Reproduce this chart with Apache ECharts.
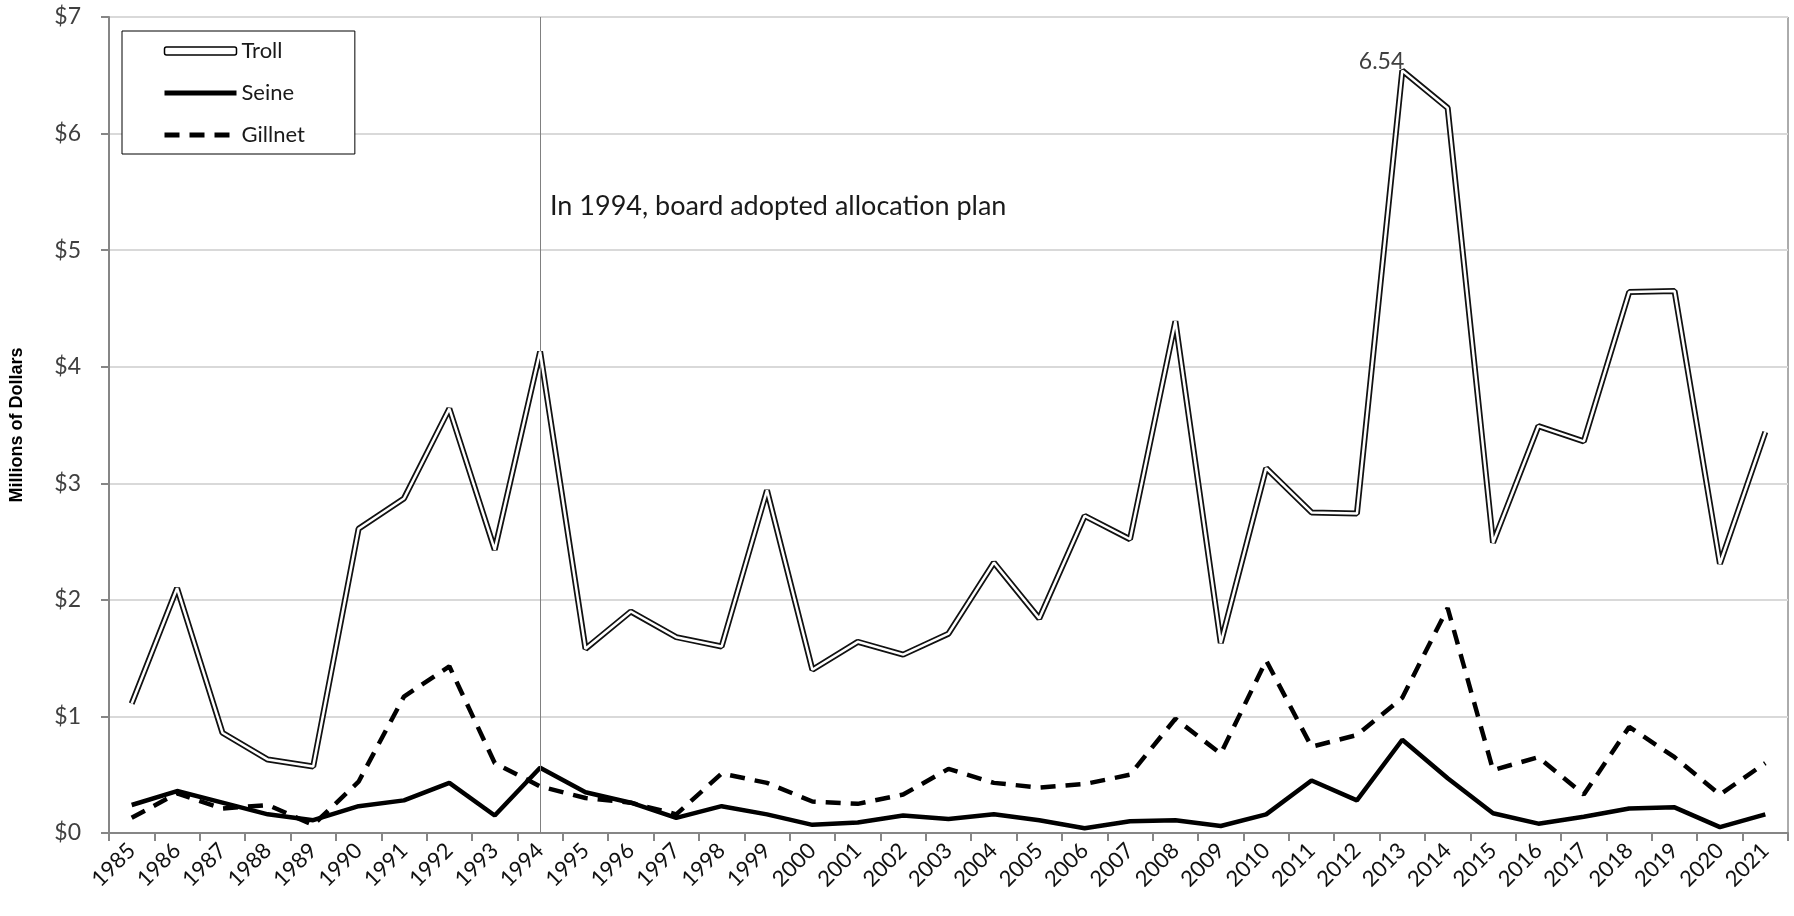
<!DOCTYPE html>
<html>
<head>
<meta charset="utf-8">
<script src="https://cdn.jsdelivr.net/npm/echarts@6.0.0/dist/echarts.min.js"></script>
<style>
  html, body { margin: 0; padding: 0; background: #fff; }
  #main { width: 1794px; height: 916px; }
</style>
</head>
<body>
<div id="main"></div>
<script>
// chart data, millions of dollars
var years = ["1985", "1986", "1987", "1988", "1989", "1990", "1991", "1992", "1993", "1994",
  "1995", "1996", "1997", "1998", "1999", "2000", "2001", "2002", "2003", "2004",
  "2005", "2006", "2007", "2008", "2009", "2010", "2011", "2012", "2013", "2014",
  "2015", "2016", "2017", "2018", "2019", "2020", "2021"];

var troll = [1.11, 2.10, 0.86, 0.63, 0.57, 2.61, 2.87, 3.64, 2.43, 4.13,
  1.58, 1.90, 1.68, 1.60, 2.94, 1.40, 1.64, 1.53, 1.71, 2.32,
  1.84, 2.72, 2.52, 4.39, 1.63, 3.13, 2.75, 2.74, 6.54, 6.22,
  2.49, 3.49, 3.36, 4.64, 4.65, 2.31, 3.44];

var seine = [0.24, 0.36, 0.26, 0.16, 0.11, 0.23, 0.28, 0.43, 0.15, 0.56,
  0.35, 0.26, 0.13, 0.23, 0.16, 0.07, 0.09, 0.15, 0.12, 0.16,
  0.11, 0.04, 0.10, 0.11, 0.06, 0.16, 0.45, 0.28, 0.80, 0.47,
  0.17, 0.08, 0.14, 0.21, 0.22, 0.05, 0.16];

var gillnet = [0.13, 0.34, 0.21, 0.24, 0.07, 0.44, 1.17, 1.43, 0.60, 0.40,
  0.30, 0.26, 0.16, 0.51, 0.43, 0.27, 0.25, 0.33, 0.55, 0.43,
  0.39, 0.42, 0.50, 0.98, 0.68, 1.48, 0.74, 0.84, 1.16, 1.93,
  0.54, 0.65, 0.33, 0.91, 0.65, 0.33, 0.60];

var yTicks = [0, 7, 1]; // min, max, interval
var markYear = "1994";
var noteText = "In 1994, board adopted allocation plan";

var font = "Lato, 'Open Sans', sans-serif";
var dash = [15, 10];

var chartDom = document.getElementById("main");
var myChart = echarts.init(chartDom);

var option = {
  animation: false,
  grid: {
    left: 107,
    right: 6,
    top: 17,
    bottom: 83,
    show: true,
    borderColor: "#595959",
    borderWidth: 1,
  },
  legend: {
    orient: "vertical",
    left: 122,
    top: 31,
    padding: [9, 50, 8, 40],
    backgroundColor: "#fff",
    borderColor: "#000",
    borderWidth: 1,
    itemWidth: 72,
    itemHeight: 8,
    itemGap: 20,
    textStyle: { fontFamily: font, fontSize: 22, color: "#1a1a1a" },
    data: [
      {
        name: "Troll",
        icon: "roundRect",
        itemStyle: { color: "#fff", borderColor: "#000", borderWidth: 1.5, opacity: 1 },
      },
      {
        name: "Seine",
        itemStyle: { opacity: 0 },
        lineStyle: { color: "#000", width: 5, type: "solid" },
      },
      {
        name: "Gillnet",
        itemStyle: { opacity: 0 },
        lineStyle: { color: "#000", width: 5, type: dash },
      },
    ],
  },
  xAxis: [
    {
      type: "category",
      boundaryGap: true,
      data: years,
      axisLine: { show: true, lineStyle: { color: "#868686", width: 2 } },
      axisTick: {
        show: true,
        length: 8,
        interval: 0,
        lineStyle: { color: "#868686", width: 2 },
      },
      axisLabel: {
        interval: 0,
        rotate: 45,
        margin: 14,
        fontFamily: font,
        fontSize: 22,
        color: "#111",
      },
      splitLine: { show: false },
    },
  ],
  yAxis: [
    {
      type: "value",
      min: yTicks[0],
      max: yTicks[1],
      interval: yTicks[2],
      name: "Millions of Dollars",
      nameLocation: "middle",
      nameRotate: 90,
      nameGap: 83,
      nameTextStyle: {
        fontFamily: "'Liberation Sans', Arial, sans-serif",
        fontWeight: "bold",
        fontSize: 18,
        color: "#000",
      },
      axisLine: { show: true, lineStyle: { color: "#868686", width: 2 } },
      axisTick: { show: true, length: 8, lineStyle: { color: "#868686", width: 2 } },
      axisLabel: {
        formatter: "${value}",
        margin: 28,
        fontFamily: font,
        fontSize: 23,
        color: "#404040",
      },
      splitLine: { show: true, lineStyle: { color: "#d9d9d9", width: 2 } },
    },
  ],
  series: [
    {
      name: "Gillnet",
      type: "line",
      data: gillnet,
      symbol: "none",
      showSymbol: false,
      lineStyle: { color: "#000", width: 4.5, type: dash },
      itemStyle: { color: "#000" },
      z: 2,
    },
    {
      name: "Seine",
      type: "line",
      data: seine,
      symbol: "none",
      showSymbol: false,
      lineStyle: { color: "#000", width: 4.5 },
      itemStyle: { color: "#000" },
      z: 3,
      markLine: {
        silent: true,
        symbol: "none",
        label: { show: false },
        lineStyle: { color: "#808080", width: 1, type: "solid" },
        data: [{ xAxis: markYear }],
      },
    },
    {
      name: "Troll",
      type: "line",
      data: troll,
      symbol: "none",
      showSymbol: false,
      lineStyle: { color: "#111", width: 6 },
      itemStyle: { color: "#111" },
      z: 4,
      markPoint: {
        silent: true,
        symbol: "circle",
        symbolSize: 0,
        data: [{ type: "max" }],
        label: {
          show: true,
          position: "left",
          distance: 0,
          offset: [2, -9],
          formatter: "{c}",
          fontFamily: font,
          fontSize: 23,
          color: "#404040",
        },
      },
    },
    {
      name: "TrollInner",
      type: "line",
      data: troll,
      symbol: "none",
      showSymbol: false,
      lineStyle: { color: "#fff", width: 2.5 },
      itemStyle: { color: "#fff" },
      z: 5,
    },
  ],
  graphic: [
    {
      type: "text",
      left: 550,
      top: 193,
      style: {
        text: noteText,
        fontFamily: font,
        fontSize: 27,
        fill: "#1a1a1a",
      },
    },
  ],
};

option && myChart.setOption(option);
</script>
</body>
</html>
